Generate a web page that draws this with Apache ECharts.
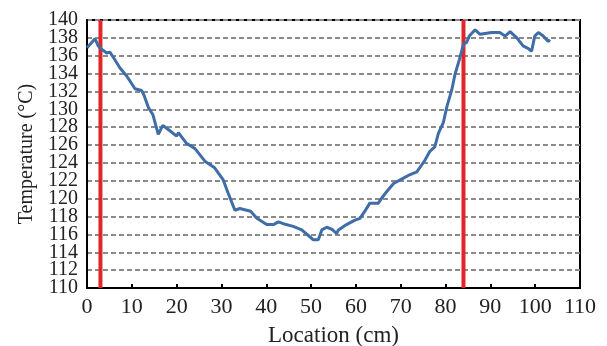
<!DOCTYPE html>
<html>
<head>
<meta charset="utf-8">
<script src="https://cdn.jsdelivr.net/npm/echarts@6/dist/echarts.min.js"></script>
<style>
  html, body { margin: 0; padding: 0; background: #fff; }
  #chart { width: 607px; height: 346px; }
</style>
</head>
<body>
<div id="chart"></div>
<script>
// Temperature profile along the length (cm, °C)
const location_cm = [0, 1.8, 2.5, 3.1, 4.4, 5.1, 5.9, 7.4, 8.9, 10.7, 12.2, 12.7, 13.7, 14.7, 15.9, 16.9, 18.5, 20.0, 20.4, 22.2, 24.1, 26.3, 28.4, 30.4, 31.5, 33.0, 34.1, 36.5, 37.9, 40.1, 41.6, 42.7, 43.8, 46.0, 47.9, 50.5, 51.6, 52.4, 53.5, 54.6, 55.7, 56.1, 57.9, 59.8, 60.9, 62.0, 63.1, 65.0, 65.8, 66.9, 68.4, 70.6, 72.1, 73.6, 75.4, 76.5, 77.6, 78.4, 79.5, 80.3, 81.4, 82.1, 83.1, 84.0, 84.7, 85.3, 86.6, 87.7, 88.8, 90.3, 92.1, 93.3, 94.4, 95.9, 97.3, 98.5, 99.2, 99.9, 100.7, 101.8, 102.9, 103.3];
const temperature = [136.9, 137.9, 137.1, 136.8, 136.3, 136.4, 135.8, 134.6, 133.7, 132.3, 132.1, 131.6, 130.2, 129.4, 127.2, 128.2, 127.6, 127.0, 127.4, 126.2, 125.6, 124.2, 123.5, 122.1, 120.6, 118.7, 118.9, 118.6, 117.8, 117.1, 117.1, 117.4, 117.2, 116.9, 116.5, 115.4, 115.4, 116.5, 116.8, 116.6, 116.1, 116.5, 117.1, 117.6, 117.8, 118.6, 119.5, 119.5, 120.1, 120.8, 121.7, 122.3, 122.7, 123.0, 124.3, 125.3, 125.8, 127.3, 128.5, 130.3, 132.2, 133.9, 135.6, 137.3, 137.5, 138.2, 138.9, 138.4, 138.5, 138.6, 138.6, 138.2, 138.7, 138.0, 137.1, 136.8, 136.5, 138.2, 138.6, 138.2, 137.6, 137.8];

// Zone boundaries marked in red (cm)
const boundaries = [3, 84];

// Axis ranges and tick spacing
const xRange = [0, 110], xStep = 10;
const yRange = [110, 140], yStep = 2;

const profile = location_cm.map((x, i) => [x, temperature[i]]);

const serif = '"Liberation Serif", "DejaVu Serif", serif';

const boundarySeries = boundaries.map(b => ({
  type: 'line',
  data: [[b, yRange[0]], [b, yRange[1]]],
  symbol: 'none',
  lineStyle: { color: '#e0262b', width: 4 },
  z: 3,
  silent: true
}));

// The temperature labels sit closer together than their glyph height, so
// alternate ticks are labelled by two overlaid axes to keep all of them visible.
const labelStyle = { fontFamily: serif, fontSize: 20, color: '#222', margin: 9, showMinLabel: true, showMaxLabel: true };
const everyOther = offset => v => (Math.round(v - yRange[0]) % (2 * yStep) === offset ? String(v) : '');

const chart = echarts.init(document.getElementById('chart'), null, { renderer: 'canvas' });
chart.setOption({
  animation: false,
  backgroundColor: '#fff',
  grid: {
    left: 87, right: 27, top: 20, bottom: 58,
    outerBoundsMode: 'none',
    containLabel: false,
    show: true, borderColor: '#000', borderWidth: 2, backgroundColor: 'transparent'
  },
  xAxis: {
    type: 'value',
    min: xRange[0], max: xRange[1], interval: xStep,
    name: 'Location (cm)',
    nameLocation: 'middle',
    nameGap: 36,
    nameTextStyle: { fontFamily: serif, fontSize: 23, color: '#222' },
    axisLine: { show: true, lineStyle: { color: '#000', width: 2 } },
    axisTick: { show: true, inside: true, length: 4, lineStyle: { color: '#000', width: 2 } },
    axisLabel: { fontFamily: serif, fontSize: 22, color: '#222', margin: 8, showMinLabel: true, showMaxLabel: true },
    splitLine: { show: false }
  },
  yAxis: [
    {
      type: 'value',
      position: 'left',
      min: yRange[0], max: yRange[1], interval: yStep,
      name: 'Temperature (°C)',
      nameLocation: 'middle',
      nameGap: 50,
      nameTextStyle: { fontFamily: serif, fontSize: 20, color: '#222' },
      axisLine: { show: true, lineStyle: { color: '#000', width: 2 } },
      axisTick: { show: false },
      axisLabel: Object.assign({}, labelStyle, { formatter: everyOther(0) }),
      splitLine: { show: true, lineStyle: { color: '#8a8a8a', width: 2, type: [5, 3] } }
    },
    {
      type: 'value',
      position: 'left',
      offset: 0,
      min: yRange[0], max: yRange[1], interval: yStep,
      axisLine: { show: false },
      axisTick: { show: false },
      axisLabel: Object.assign({}, labelStyle, { formatter: everyOther(yStep) }),
      splitLine: { show: false }
    }
  ],
  series: [
    {
      type: 'line',
      data: profile,
      yAxisIndex: 0,
      symbol: 'none',
      lineStyle: { color: '#3f6da7', width: 3 },
      z: 4,
      silent: true
    },
    ...boundarySeries
  ]
});
</script>
</body>
</html>
